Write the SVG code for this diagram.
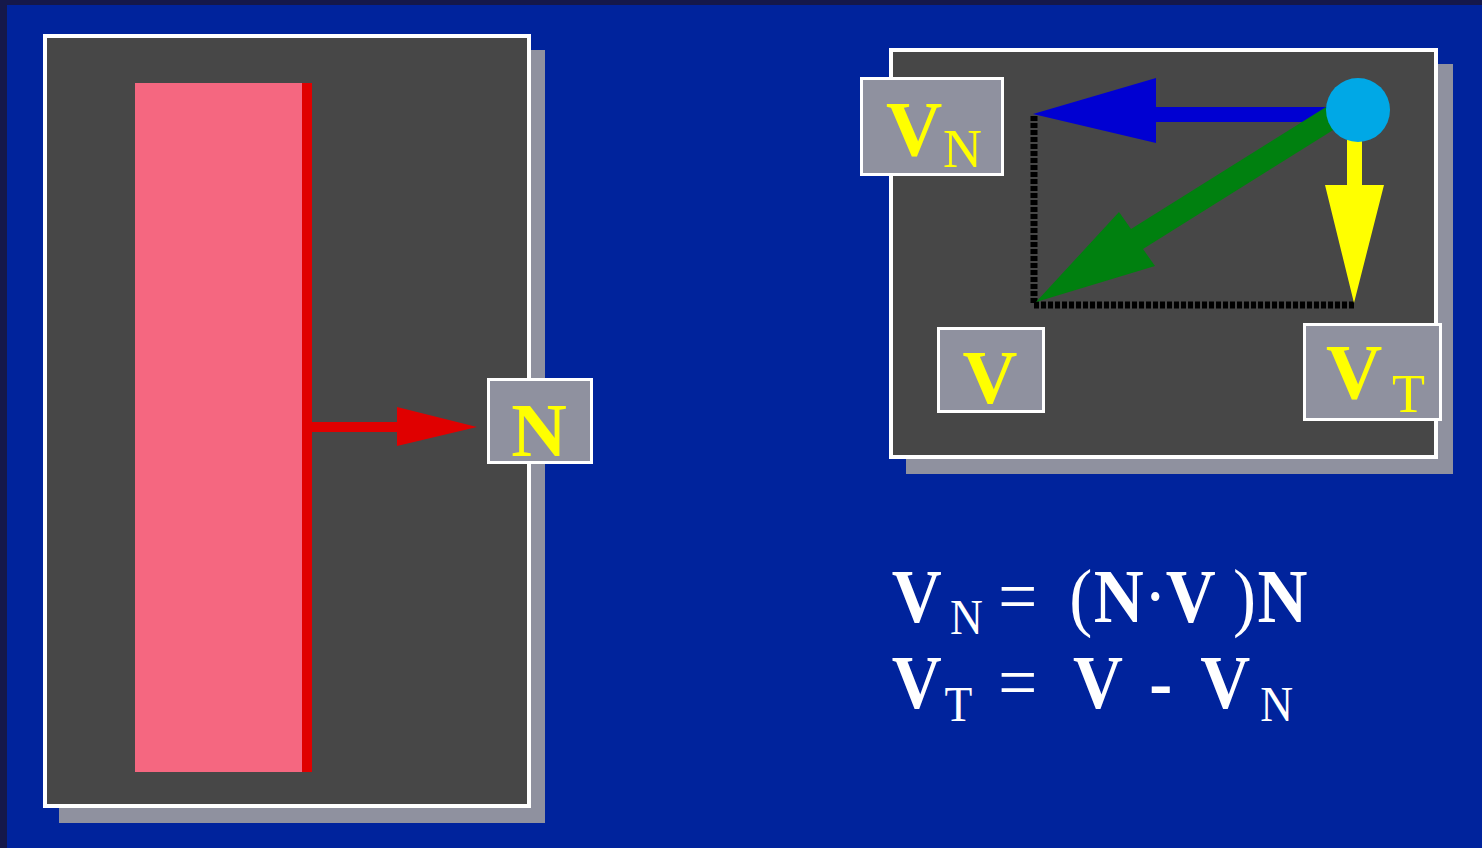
<svg xmlns="http://www.w3.org/2000/svg" width="1482" height="848" viewBox="0 0 1482 848">
<style>
.panel{fill:#474747;stroke:#FFFFFF;stroke-width:4}
.shadow{fill:#8F919F}
.box{fill:#8F919F;stroke:#FFFFFF;stroke-width:3}
.lbl{font-family:"Liberation Serif","Times New Roman",serif;fill:#FFFF00}
.eq{font-family:"Liberation Serif","Times New Roman",serif;fill:#FFFFFF}
.b{font-weight:bold}
.dot{fill:none;stroke:#000000;stroke-width:7;stroke-dasharray:5 2}
</style>
<rect x="0" y="0" width="1482" height="848" fill="#15184A"/>
<rect x="7" y="5" width="1475" height="843" fill="#00239C"/>

<g id="left-panel">
<rect class="shadow" x="59" y="50" width="486" height="773"/>
<rect class="panel" x="45" y="36" width="484" height="770"/>
<rect x="135" y="83" width="167" height="689" fill="#F56780"/>
<rect x="302" y="83" width="10" height="689" fill="#E00000"/>
</g>

<g id="right-panel">
<rect class="shadow" x="906" y="64" width="547" height="410"/>
<rect class="panel" x="891" y="50" width="545" height="407"/>
</g>

<g id="connectors">
<polyline class="dot" points="1034,116 1034,305 1354,305"/>
<polygon fill="#E00000" points="312,422 397,422 397,407 477,427 397,446 397,432 312,432"/>
<polygon fill="#0000D2" points="1340,107 1156,107 1156,78 1033,114 1156,143 1156,122 1340,122"/>
<polygon fill="#00800F" points="1326,107 1131,229 1119,212 1036,302 1155,266 1143,249 1338,127"/>
<polygon fill="#FFFF00" points="1347,130 1362,130 1362,185 1384,185 1354,303 1325,185 1347,185"/>
<circle cx="1358" cy="110" r="32" fill="#00A8E6"/>
</g>

<g id="node-N">
<rect class="box" x="488.5" y="379.5" width="103" height="83"/>
<text class="lbl b" x="539" y="456" font-size="77" text-anchor="middle">N</text>
</g>

<g id="node-VN">
<rect class="box" x="861.5" y="78.5" width="141" height="96"/>
<text class="lbl" x="886" y="155" font-size="78"><tspan class="b">V</tspan><tspan x="943" y="167" font-size="54">N</tspan></text>
</g>

<g id="node-V">
<rect class="box" x="938.5" y="328.5" width="105" height="83"/>
<text class="lbl b" x="990" y="403" font-size="76" text-anchor="middle">V</text>
</g>

<g id="node-VT">
<rect class="box" x="1304.5" y="324.5" width="136" height="95"/>
<text class="lbl" x="1326" y="398" font-size="78"><tspan class="b">V</tspan><tspan x="1392" y="412" font-size="54">T</tspan></text>
</g>

<g id="equations" transform="scale(0.91 1)">
<text class="eq" font-size="76" x="980" y="622"><tspan class="b">V</tspan><tspan x="1044" y="634" font-size="50">N</tspan><tspan x="1097" y="622">=</tspan><tspan x="1175" y="622">(</tspan><tspan class="b" x="1202" y="622">N</tspan><tspan x="1257" y="622">·</tspan><tspan class="b" x="1281" y="622">V</tspan><tspan x="1355" y="622">)</tspan><tspan class="b" x="1382" y="622">N</tspan></text>
<text class="eq" font-size="76" x="980" y="708"><tspan class="b">V</tspan><tspan x="1038" y="721" font-size="50">T</tspan><tspan x="1097" y="708">=</tspan><tspan class="b" x="1179" y="708">V</tspan><tspan class="b" x="1263" y="708">-</tspan><tspan class="b" x="1319" y="708">V</tspan><tspan x="1385" y="721" font-size="50">N</tspan></text>
</g>
</svg>
